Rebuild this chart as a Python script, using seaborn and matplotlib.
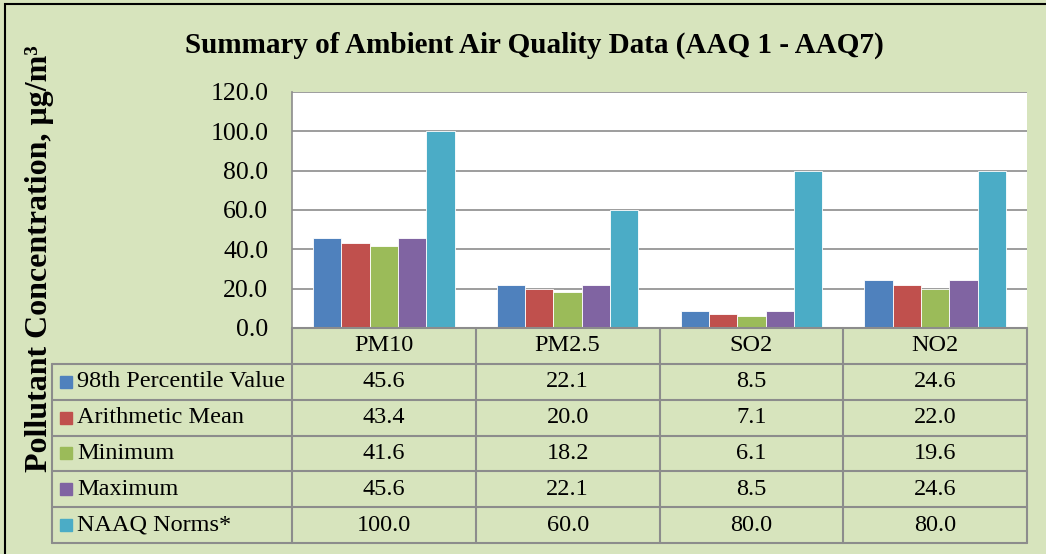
import matplotlib.pyplot as plt
import pandas as pd
import seaborn as sns
from matplotlib.patches import Rectangle

# data
pollutants = ["PM10", "PM2.5", "SO2", "NO2"]
series = ["98th Percentile Value", "Arithmetic Mean", "Minimum", "Maximum", "NAAQ Norms*"]
p98 = [45.6, 22.1, 8.5, 24.6]
arith_mean = [43.4, 20.0, 7.1, 22.0]
minimum = [41.6, 18.2, 6.1, 19.6]
maximum = [45.6, 22.1, 8.5, 24.6]
naaq = [100.0, 60.0, 80.0, 80.0]
yticks = [0, 20, 40, 60, 80, 100, 120]

colors = ["#4F81BD", "#C0504D", "#9BBB59", "#8064A2", "#4BACC6"]
BG = "#D7E4BD"
LINE = "#8C8C8C"
W, H = 1046, 554

values = [p98, arith_mean, minimum, maximum, naaq]
df = pd.DataFrame(
    [(p, s, v[i]) for s, v in zip(series, values) for i, p in enumerate(pollutants)],
    columns=["pollutant", "series", "value"],
)

sns.set_theme(style="white")
plt.rcParams["font.family"] = ["Liberation Serif", "DejaVu Serif"]
plt.rcParams["text.color"] = "black"

fig = plt.figure(figsize=(W / 100, H / 100), dpi=100)
fig.patch.set_facecolor(BG)
# outer frame (only left/top edges fall inside the picture)
fig.add_artist(Rectangle((5 / W, -10 / H), (W + 10) / W, (H + 6) / H, transform=fig.transFigure,
                         fill=False, ec="black", lw=1.5))

# bar chart
ax = fig.add_axes([292 / W, 1 - 328 / H, 735 / W, 236 / H])
sns.barplot(data=df, x="pollutant", y="value", hue="series", order=pollutants,
            hue_order=series, palette=colors, saturation=1, width=0.77,
            edgecolor="white", linewidth=0.6, legend=False, ax=ax)
ax.set_facecolor("white")
ax.set_xlim(-0.5, 3.5)
ax.set_ylim(0, 120)
ax.set_yticks(yticks)
ax.set_yticklabels([f"{t:.1f}" for t in yticks], fontsize=18.5)
ax.tick_params(axis="y", length=0, pad=17, colors="black")
ax.set_xticks([])
ax.set_xlabel("")
ax.set_ylabel("")
ax.yaxis.grid(True, color=LINE, lw=1.2)
ax.set_axisbelow(True)
for side in ["top", "right", "bottom"]:
    ax.spines[side].set_visible(False)
ax.spines["left"].set_color(LINE)
ax.spines["left"].set_linewidth(1.2)

fig.text(534 / W, 1 - 45 / H, "Summary of Ambient Air Quality Data (AAQ 1 - AAQ7)",
         ha="center", va="center", fontsize=21, fontweight="bold")
fig.text(40 / W, 1 - 259 / H, "Pollutant Concentration, μg/m³", rotation=90,
         ha="center", va="center", fontsize=23, fontweight="bold")

# data table under the chart
col_px = 735 / 4
lab_w = 240 / col_px
tab = fig.add_axes([52 / W, 1 - 543 / H, 975 / W, 215 / H])
tab.set_xlim(-0.5 - lab_w, 3.5)
tab.set_ylim(6, 0)
tab.axis("off")
left = -0.5 - lab_w
kw = dict(color=LINE, lw=1.5, clip_on=False)
tab.plot([-0.5, 3.5], [0, 0], **kw)
for r in range(1, 7):
    tab.plot([left, 3.5], [r, r], **kw)
for c in range(5):
    tab.plot([c - 0.5, c - 0.5], [0, 6], **kw)
tab.plot([left, left], [1, 6], **kw)

for i, p in enumerate(pollutants):
    tab.text(i, 0.5, p, ha="center", va="center", fontsize=17.5)
for r, (s, v, col) in enumerate(zip(series, values, colors)):
    y = r + 1.5
    tab.plot([left + 14 / col_px], [y], marker="s", ms=8.5, color=col, mec=col)
    tab.text(left + 25 / col_px, y, s, ha="left", va="center", fontsize=17.5)
    for i, val in enumerate(v):
        tab.text(i, y, f"{val:.1f}", ha="center", va="center", fontsize=17.5)

fig.savefig("out.png", dpi=100, facecolor=BG)
